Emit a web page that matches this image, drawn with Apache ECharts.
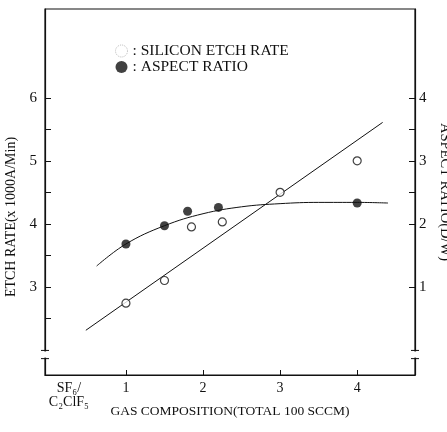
<!DOCTYPE html>
<html>
<head>
<meta charset="utf-8">
<script src="https://cdn.jsdelivr.net/npm/echarts@6/dist/echarts.min.js"></script>
<style>
  html, body { margin: 0; padding: 0; background: #fff; }
  #chart { width: 447px; height: 432px; }
</style>
</head>
<body>
<div id="chart"></div>
<script>
// values
var xTicks = [1, 2, 3, 4];
var etchTicks = [3, 4, 5, 6];
var ratioTicks = [1, 2, 3, 4];

var etchX = [1, 1.5, 1.85, 2.25, 3, 4];
var etchRate = [2.74, 3.10, 3.95, 4.03, 4.50, 5.00];

var ratioX = [1, 1.5, 1.8, 2.2, 4];
var aspectRatio = [1.68, 1.97, 2.20, 2.26, 2.33];

// drawn fit curves
var etchFitX = [0.48, 4.33];
var etchFitY = [2.31, 5.61];
var ratioFitX = [0.62, 1.0, 1.5, 2.0, 2.5, 3.0, 3.5, 4.0, 4.4];
var ratioFitY = [1.33, 1.68, 1.97, 2.16, 2.27, 2.32, 2.34, 2.34, 2.33];

function zip(a, b) { return a.map(function (v, i) { return [v, b[i]]; }); }

var font = '"Liberation Serif", "Times New Roman", serif';
var ink = '#111';

var chart = echarts.init(document.getElementById('chart'));
var option = {
  animation: false,
  backgroundColor: '#fff',
  textStyle: { fontFamily: font, color: ink },
  grid: {
    left: 45, right: 32, top: 9, bottom: 57, outerBoundsMode: 'none', containLabel: false,
    show: true, borderColor: ink, borderWidth: 1.2
  },
  legend: {
    orient: 'vertical', left: 110, top: 38, itemGap: 0,
    itemWidth: 12, itemHeight: 12,
    textStyle: { fontFamily: font, fontSize: 15.5, color: ink },
    formatter: function (n) { return ': ' + n; },
    data: [
      { name: 'SILICON ETCH RATE', icon: 'circle', itemStyle: { color: '#fff', borderColor: '#aaa', borderWidth: 1, borderType: 'dotted' } },
      { name: 'ASPECT RATIO', icon: 'circle', itemStyle: { color: ink } }
    ]
  },
  xAxis: {
    type: 'value', min: -0.05, max: 4.75,
    name: 'GAS COMPOSITION(TOTAL 100 SCCM)', nameLocation: 'middle', nameGap: 29, nameMoveOverlap: false,
    nameTextStyle: { fontFamily: font, fontSize: 13.5, color: ink },
    axisLine: { onZero: false, lineStyle: { color: ink, width: 1.2 } },
    axisTick: { inside: true, length: 5, customValues: xTicks, lineStyle: { color: ink } },
    axisLabel: {
      customValues: [0.26].concat(xTicks), margin: 6, lineHeight: 14,
      fontFamily: font, fontSize: 14, color: ink,
      formatter: function (v) { return v < 0.5 ? 'SF\u2086/\nC\u2082ClF\u2085' : String(v); }
    },
    splitLine: { show: false }
  },
  yAxis: [
    {
      type: 'value', min: 1.6, max: 7.41,
      name: 'ETCH RATE(x 1000A/Min)', nameLocation: 'middle', nameGap: 25,
      nameTextStyle: { fontFamily: font, fontSize: 14, color: ink, padding: [0, 50, 0, 0] },
      axisLine: { show: true, onZero: false, lineStyle: { color: ink, width: 1.2 } },
      axisTick: { inside: true, length: 6, customValues: [2.5, 3, 3.5, 4, 4.5, 5, 5.5, 6], lineStyle: { color: ink } },
      axisLabel: { customValues: etchTicks, margin: 8, fontFamily: font, fontSize: 15, color: ink },
      splitLine: { show: false }
    },
    {
      type: 'value', min: -0.4, max: 5.41, position: 'right',
      name: 'ASPECT RATIO(D/W)', nameLocation: 'middle', nameGap: 20, nameRotate: -90,
      nameTextStyle: { fontFamily: font, fontSize: 14.5, color: ink },
      axisLine: { show: true, onZero: false, lineStyle: { color: ink, width: 1.2 } },
      axisTick: { inside: true, length: 6, customValues: [1, 2, 2.5, 3, 3.5, 4], lineStyle: { color: ink } },
      axisLabel: { customValues: ratioTicks, margin: 4, fontFamily: font, fontSize: 15, color: ink },
      splitLine: { show: false }
    }
  ],
  series: [
    {
      name: 'etch fit', type: 'line', yAxisIndex: 0, data: zip(etchFitX, etchFitY),
      showSymbol: false, lineStyle: { color: ink, width: 1 }, silent: true
    },
    {
      name: 'ratio fit', type: 'line', yAxisIndex: 1, data: zip(ratioFitX, ratioFitY),
      smooth: 0.4, showSymbol: false, lineStyle: { color: ink, width: 1 }, silent: true
    },
    {
      name: 'SILICON ETCH RATE', type: 'scatter', yAxisIndex: 0, data: zip(etchX, etchRate),
      symbol: 'circle', symbolSize: 8, z: 5,
      itemStyle: { color: '#fff', borderColor: ink, borderWidth: 1.2 }
    },
    {
      name: 'ASPECT RATIO', type: 'scatter', yAxisIndex: 1, data: zip(ratioX, aspectRatio),
      symbol: 'circle', symbolSize: 9, z: 5,
      itemStyle: { color: ink }
    }
  ]
};
chart.setOption(option);

// axis break marks on both vertical axes
var gapLo = 1.86, gapHi = 1.99;
var yHi = chart.convertToPixel({ yAxisIndex: 0 }, gapHi);
var yLo = chart.convertToPixel({ yAxisIndex: 0 }, gapLo);
var xL = chart.convertToPixel({ xAxisIndex: 0 }, -0.05);
var xR = chart.convertToPixel({ xAxisIndex: 0 }, 4.75);
var marks = [];
[xL, xR].forEach(function (x) {
  marks.push({ type: 'rect', shape: { x: x - 2, y: yHi + 1, width: 4, height: yLo - yHi - 2 }, style: { fill: '#fff' }, z: 100 });
  marks.push({ type: 'line', shape: { x1: x - 4, y1: yHi, x2: x + 4, y2: yHi }, style: { stroke: ink, lineWidth: 1 }, z: 101 });
  marks.push({ type: 'line', shape: { x1: x - 4, y1: yLo, x2: x + 4, y2: yLo }, style: { stroke: ink, lineWidth: 1 }, z: 101 });
});
chart.setOption({ graphic: marks });
</script>
</body>
</html>
